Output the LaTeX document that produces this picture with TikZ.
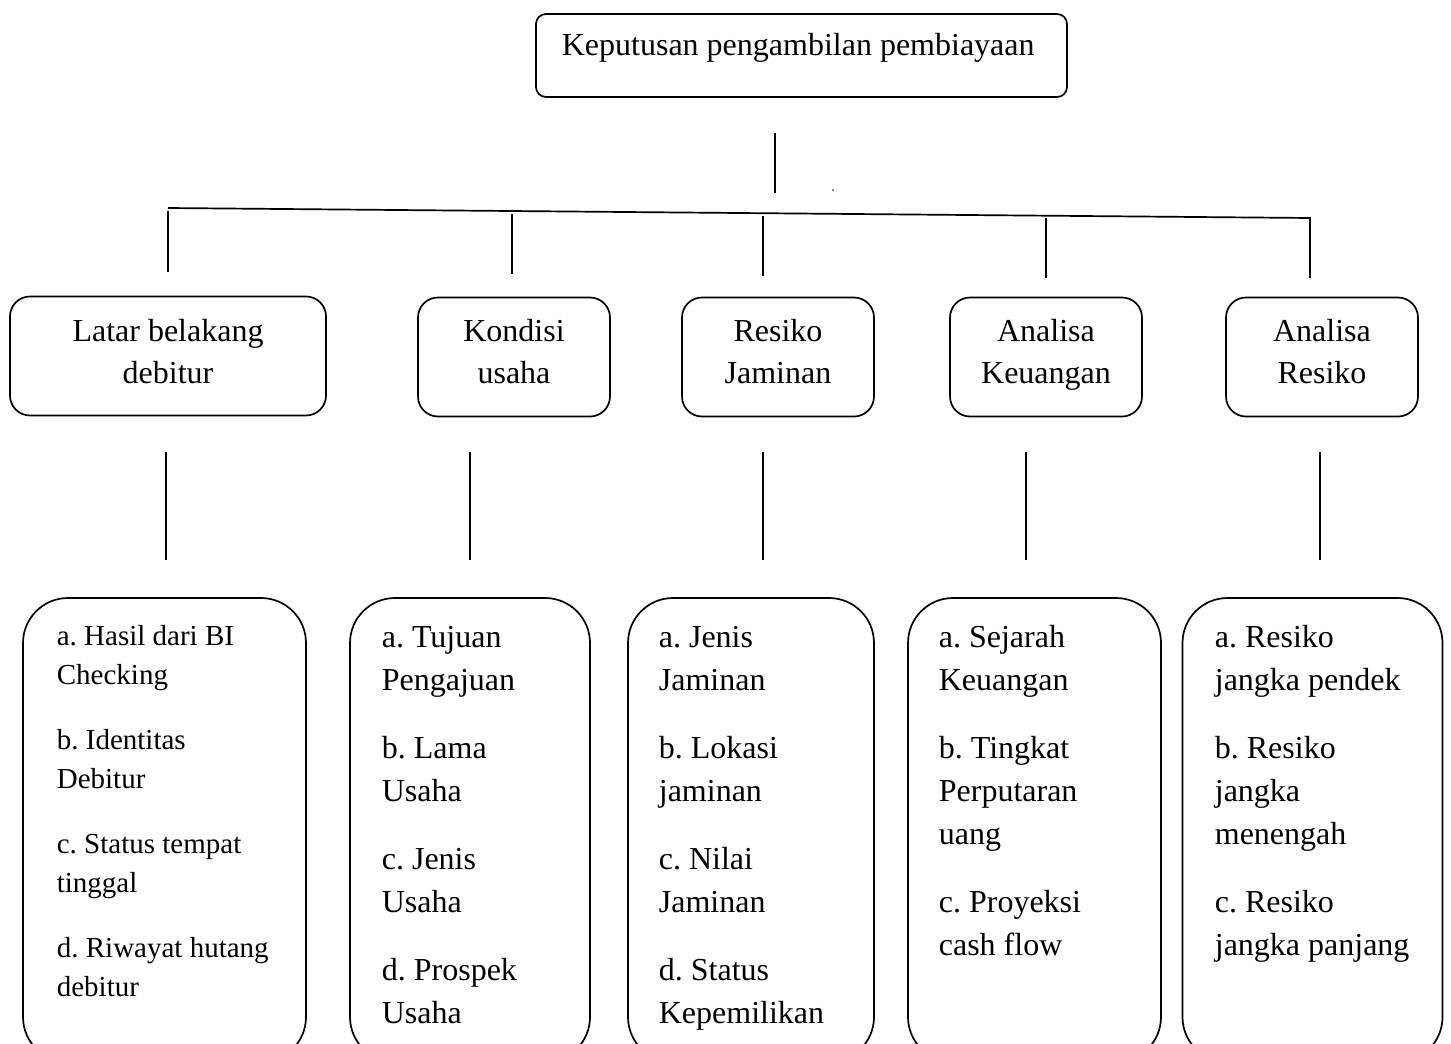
\documentclass[tikz,border=0pt]{standalone}
\usepackage{fontspec}
\setmainfont{Liberation Serif}
\frenchspacing
\begin{document}
\begin{tikzpicture}[x=1pt,y=-1pt, line width=1.7pt,
  topbox/.style={draw, rounded corners=10pt, minimum width=531pt, minimum height=83pt, inner sep=0pt},
  midbox/.style={draw, rounded corners=20pt, minimum height=119pt, inner sep=0pt},
  lowbox/.style={draw, rounded corners=45pt, minimum height=464pt, inner sep=0pt},
  bigtxt/.style={inner sep=0pt, font=\fontsize{32}{42}\selectfont},
  midtxt/.style={inner sep=0pt, anchor=north, align=center, font=\fontsize{32}{42}\selectfont},
  itemtxt/.style={inner sep=0pt, anchor=north west, align=left, font=\fontsize{32}{43}\selectfont},
  smalltxt/.style={inner sep=0pt, anchor=north west, align=left, font=\fontsize{29}{38.5}\selectfont},
  link/.style={line width=1.7pt}]
\useasboundingbox (0,0) rectangle (1451,1044);
\clip (0,0) rectangle (1451,1044);

% top box
\node[topbox] (top) at (801.5,55.5) {};
\node[bigtxt, anchor=base west] (toptxt) at (561,55) {Keputusan pengambilan pembiayaan};

% middle boxes
\node[midbox, minimum width=316pt] (m1) at (168,356) {};
\node[midbox, minimum width=192pt] (m2) at (514,357) {};
\node[midbox, minimum width=192pt] (m3) at (778,357) {};
\node[midbox, minimum width=192pt] (m4) at (1046,357) {};
\node[midbox, minimum width=192pt] (m5) at (1322,357) {};
\node[midtxt] (m1t) at (168,317) {\rule{0pt}{24pt}Latar belakang\\debitur};
\node[midtxt] (m2t) at (514,317) {\rule{0pt}{24pt}Kondisi\\usaha};
\node[midtxt] (m3t) at (778,317) {\rule{0pt}{24pt}Resiko\\Jaminan};
\node[midtxt] (m4t) at (1046,317) {\rule{0pt}{24pt}Analisa\\Keuangan};
\node[midtxt] (m5t) at (1322,317) {\rule{0pt}{24pt}Analisa\\Resiko};

% lower boxes
\node[lowbox, minimum width=283pt] (b1) at (164.5,830) {};
\node[lowbox, minimum width=240pt] (b2) at (470,830) {};
\node[lowbox, minimum width=246pt] (b3) at (751,830) {};
\node[lowbox, minimum width=253pt] (b4) at (1034.5,830) {};
\node[lowbox, minimum width=260pt] (b5) at (1312.5,830) {};

\node[smalltxt] (b1t) at (56,623) {\rule{0pt}{22pt}a. Hasil dari BI\\Checking\\[27pt]b. Identitas\\Debitur\\[27pt]c. Status tempat\\tinggal\\[27pt]d. Riwayat hutang\\debitur};
\node[itemtxt] (b2t) at (381,623) {\rule{0pt}{24pt}a. Tujuan\\Pengajuan\\[25pt]b. Lama\\Usaha\\[25pt]c. Jenis\\Usaha\\[25pt]d. Prospek\\Usaha};
\node[itemtxt] (b3t) at (658,623) {\rule{0pt}{24pt}a. Jenis\\Jaminan\\[25pt]b. Lokasi\\jaminan\\[25pt]c. Nilai\\Jaminan\\[25pt]d. Status\\Kepemilikan};
\node[itemtxt] (b4t) at (938,623) {\rule{0pt}{24pt}a. Sejarah\\Keuangan\\[25pt]b. Tingkat\\Perputaran\\uang\\[25pt]c. Proyeksi\\cash flow};
\node[itemtxt] (b5t) at (1214,623) {\rule{0pt}{24pt}a. Resiko\\jangka pendek\\[25pt]b. Resiko\\jangka\\menengah\\[25pt]c. Resiko\\jangka panjang};

% connectors
\coordinate (t1) at (775,133);
\coordinate (t2) at (775,193);
\coordinate (hL) at (168,208);
\coordinate (hR) at (1310,218);
\coordinate (v1a) at (168,211);  \coordinate (v1b) at (168,272);
\coordinate (v2a) at (512,214);  \coordinate (v2b) at (512,274);
\coordinate (v3a) at (763,216);  \coordinate (v3b) at (763,276);
\coordinate (v4a) at (1046,218); \coordinate (v4b) at (1046,278);
\coordinate (v5b) at (1310,278);
\coordinate (w1a) at (166,452);  \coordinate (w1b) at (166,560);
\coordinate (w2a) at (470,452);  \coordinate (w2b) at (470,560);
\coordinate (w3a) at (763,452);  \coordinate (w3b) at (763,560);
\coordinate (w4a) at (1026,452); \coordinate (w4b) at (1026,560);
\coordinate (w5a) at (1320,452); \coordinate (w5b) at (1320,560);
\coordinate (dot) at (833,190);

\draw[link] (t1) -- (t2);
\draw[link] (hL) -- (hR) -- (v5b);
\draw[link] (v1a) -- (v1b);
\draw[link] (v2a) -- (v2b);
\draw[link] (v3a) -- (v3b);
\draw[link] (v4a) -- (v4b);
\draw[link] (w1a) -- (w1b);
\draw[link] (w2a) -- (w2b);
\draw[link] (w3a) -- (w3b);
\draw[link] (w4a) -- (w4b);
\draw[link] (w5a) -- (w5b);
\fill (dot) circle (0.8pt);
\end{tikzpicture}
\end{document}
